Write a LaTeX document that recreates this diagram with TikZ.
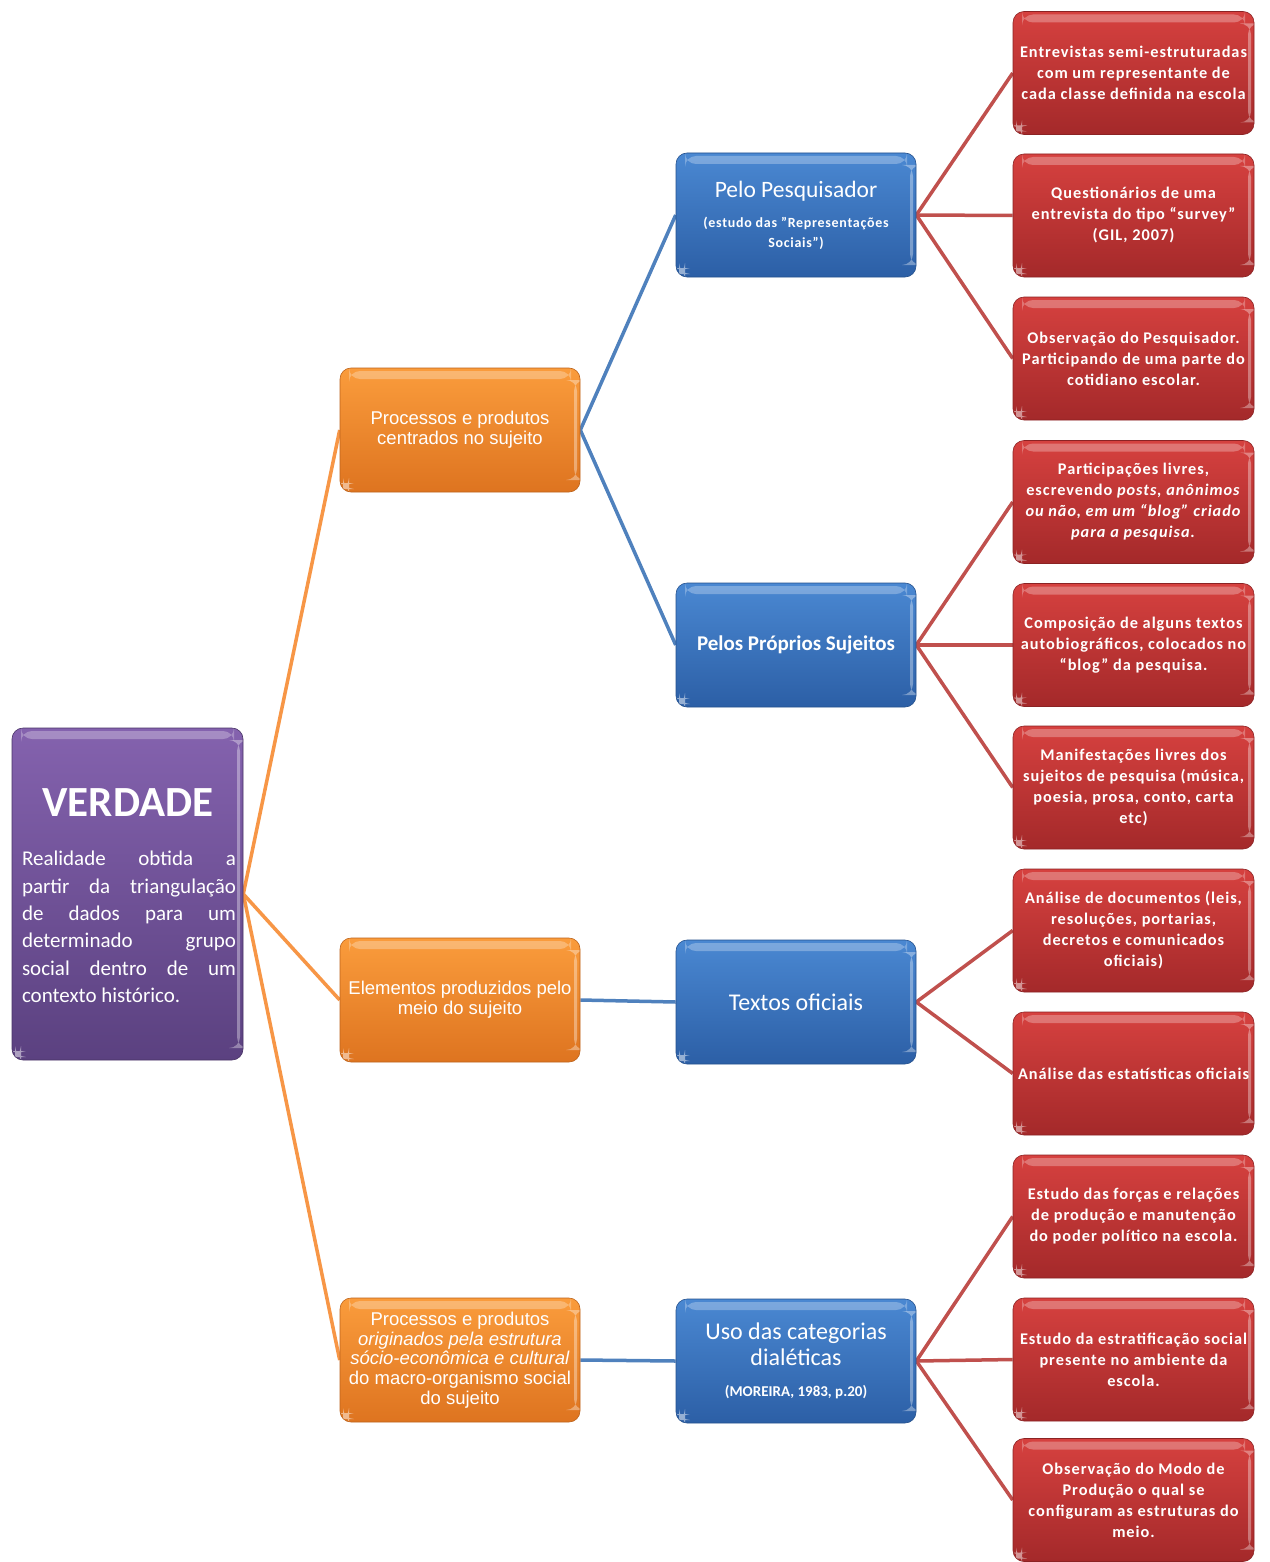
\documentclass[tikz,border=0pt]{standalone}
\usepackage{fontspec}
\setmainfont{Carlito}
\newfontfamily\arialf{Liberation Sans}
\usetikzlibrary{backgrounds}
\definecolor{purT}{HTML}{8462AE}
\definecolor{purB}{HTML}{5B4180}
\definecolor{oraT}{HTML}{FA9C3C}
\definecolor{oraB}{HTML}{DE7420}
\definecolor{bluT}{HTML}{4A88D2}
\definecolor{bluB}{HTML}{2C5FA6}
\definecolor{redT}{HTML}{D6413F}
\definecolor{redB}{HTML}{A4292A}
\definecolor{oraL}{HTML}{F79646}
\definecolor{bluL}{HTML}{4F81BD}
\definecolor{redL}{HTML}{C0504D}
\newcommand\subfnt{\bfseries\fontsize{14}{20}\selectfont\addfontfeature{LetterSpace=5}}
\newcommand\bigfnt{\fontsize{24}{26}\selectfont}
\tikzset{
  gloss/.style={path picture={
    \fill[white,opacity=0.28] ([xshift=9pt,yshift=-3pt]path picture bounding box.north west) rectangle ([xshift=-9pt,yshift=-11pt]path picture bounding box.north east);
    \fill[white,opacity=0.35] ([xshift=-6pt,yshift=-12pt]path picture bounding box.north east) rectangle ([xshift=-3pt,yshift=12pt]path picture bounding box.south east);
    \fill[white,opacity=0.5] ([xshift=3pt,yshift=3pt]path picture bounding box.south west) rectangle ([xshift=9pt,yshift=9pt]path picture bounding box.south west);
  }},
  basebox/.style={rounded corners=11pt, inner sep=0pt, text=white, align=center, gloss},
  purbox/.style={basebox, top color=purT, bottom color=purB, draw=purB!80!black, line width=0.6pt, minimum width=231pt, minimum height=332pt},
  orabox/.style={basebox, top color=oraT, bottom color=oraB, draw=oraB!85!black, line width=0.6pt, minimum width=240pt, minimum height=124pt, font=\arialf\fontsize{18.5}{19.6}\selectfont},
  blubox/.style={basebox, top color=bluT, bottom color=bluB, draw=bluB!85!black, line width=0.6pt, minimum width=240pt, minimum height=124pt},
  redbox/.style={basebox, top color=redT, bottom color=redB, draw=redB!85!black, line width=0.6pt, minimum width=241pt, minimum height=123pt, font=\bfseries\fontsize{16.3}{21}\selectfont\addfontfeature{LetterSpace=6}},
  olink/.style={draw=oraL, line width=3.5pt},
  blink/.style={draw=bluL, line width=3.5pt},
  rlink/.style={draw=redL, line width=3.5pt},
}
\begin{document}
\begin{tikzpicture}[x=1pt,y=-1pt]
\useasboundingbox (0,0) rectangle (1269,1562);

% root
\node[purbox] (v) at (127.5,894) {};
\node[text=white, font=\bfseries\fontsize{43}{46}\selectfont, inner sep=0pt] (vt) at (128,803) {VERDADE};
\node[text=white, text width=214pt, align=justify, inner sep=0pt, font=\fontsize{21}{27.4}\selectfont, anchor=north] (vb) at (129,851) {Realidade obtida a\linebreak partir da triangulação\linebreak de dados para um\linebreak determinado grupo\linebreak social dentro de um\linebreak contexto histórico.};

% orange
\node[orabox] (o1) at (460,430) {Processos e produtos\\centrados no sujeito};
\node[orabox] (o2) at (460,1000) {Elementos produzidos pelo\\meio do sujeito};
\node[orabox] (o3) at (460,1360) {Processos e produtos\\\textit{originados pela estrutura}\\\textit{sócio-econômica e cultural}\\do macro-organismo social\\do sujeito};

% blue
\node[blubox] (b1) at (796,215) {\begin{minipage}{236pt}\centering\fontsize{23.5}{26}\selectfont Pelo Pesquisador\par\vspace{10pt}\subfnt (estudo das "Representações\\Sociais")\end{minipage}};
\node[blubox] (b2) at (796,645) {\bfseries\fontsize{21}{24}\selectfont Pelos Próprios Sujeitos};
\node[blubox] (b3) at (796,1002) {\fontsize{24}{26}\selectfont Textos oficiais};
\node[blubox] (b4) at (796,1361) {\begin{minipage}{236pt}\centering\bigfnt Uso das categorias\\dialéticas\par\vspace{13pt}\bfseries\fontsize{15}{18}\selectfont (MOREIRA, 1983, p.20)\end{minipage}};

% red
\node[redbox] (r1) at (1133.5,73) {Entrevistas semi-estruturadas\\com um representante de\\cada classe definida na escola};
\node[redbox] (r2) at (1133.5,215.5) {Questionários de uma\\entrevista do tipo “survey”\\(GIL, 2007)};
\node[redbox] (r3) at (1133.5,358.5) {Observação do Pesquisador.\\Participando de uma parte do\\cotidiano escolar.};
\node[redbox] (r4) at (1133.5,502) {Participações livres,\\escrevendo \textit{posts, anônimos}\\\textit{ou não, em um “blog” criado}\\\textit{para a pesquisa.}};
\node[redbox] (r5) at (1133.5,645) {Composição de alguns textos\\autobiográficos, colocados no\\“blog” da pesquisa.};
\node[redbox] (r6) at (1133.5,787.5) {Manifestações livres dos\\sujeitos de pesquisa (música,\\poesia, prosa, conto, carta\\etc)};
\node[redbox] (r7) at (1133.5,930.5) {Análise de documentos (leis,\\resoluções, portarias,\\decretos e comunicados\\oficiais)};
\node[redbox] (r8) at (1133.5,1073.5) {Análise das estatísticas oficiais};
\node[redbox] (r9) at (1133.5,1216.5) {Estudo das forças e relações\\de produção e manutenção\\do poder político na escola.};
\node[redbox] (r10) at (1133.5,1359.5) {Estudo da estratificação social\\presente no ambiente da\\escola.};
\node[redbox] (r11) at (1133.5,1500) {Observação do Modo de\\Produção o qual se\\configuram as estruturas do\\meio.};

\begin{scope}[on background layer]
\fill[white] (0,0) rectangle (1269,1562);
\draw[olink] (v.east) -- (o1.west);
\draw[olink] (v.east) -- (o2.west);
\draw[olink] (v.east) -- (o3.west);
\draw[blink] (o1.east) -- (b1.west);
\draw[blink] (o1.east) -- (b2.west);
\draw[blink] (o2.east) -- (b3.west);
\draw[blink] (o3.east) -- (b4.west);
\draw[rlink] (b1.east) -- (r1.west);
\draw[rlink] (b1.east) -- (r2.west);
\draw[rlink] (b1.east) -- (r3.west);
\draw[rlink] (b2.east) -- (r4.west);
\draw[rlink] (b2.east) -- (r5.west);
\draw[rlink] (b2.east) -- (r6.west);
\draw[rlink] (b3.east) -- (r7.west);
\draw[rlink] (b3.east) -- (r8.west);
\draw[rlink] (b4.east) -- (r9.west);
\draw[rlink] (b4.east) -- (r10.west);
\draw[rlink] (b4.east) -- (r11.west);
\end{scope}
\end{tikzpicture}
\end{document}
